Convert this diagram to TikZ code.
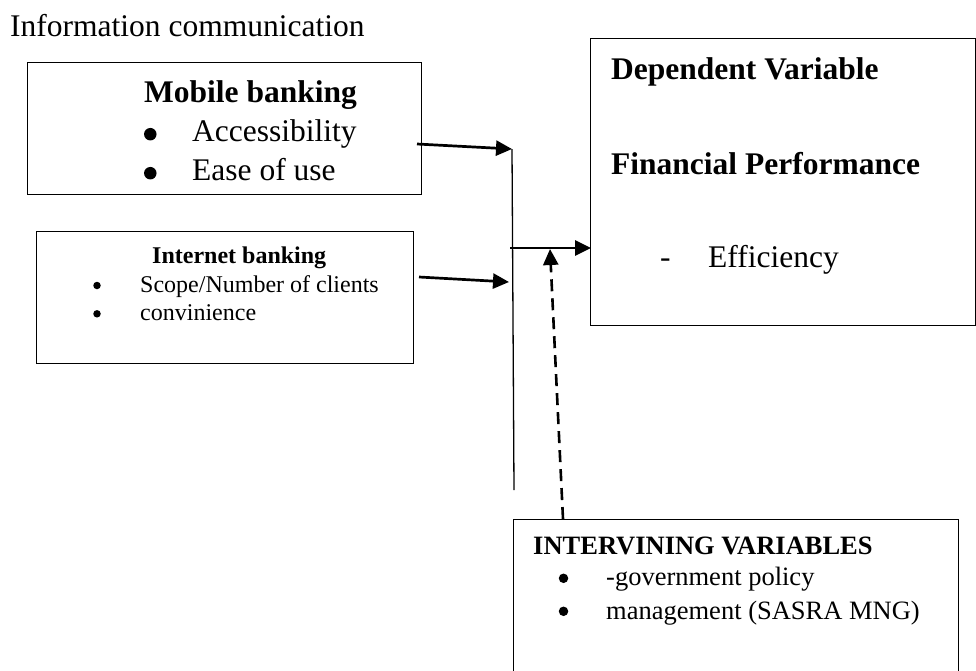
\documentclass[tikz,border=0pt]{standalone}
\usepackage{fontspec}
\setmainfont{Liberation Serif}
\usetikzlibrary{arrows.meta}
\begin{document}
\begin{tikzpicture}[x=1pt,y=-1pt,
  box/.style={draw, line width=1.3pt, inner sep=0pt, anchor=north west},
  txt/.style={anchor=base west, inner sep=0pt},
  big/.style={font=\fontsize{31.5}{36}\selectfont},
  mid/.style={font=\fontsize{26.5}{31}\selectfont},
  small/.style={font=\fontsize{24}{28}\selectfont},
  dot/.style={circle, fill, inner sep=0pt, minimum size=#1},
  link/.style={line width=2.7pt, -{Triangle[length=16pt,width=15pt]}},
  bus/.style={line width=1.3pt},
  dashlink/.style={line width=2.6pt, dash pattern=on 12pt off 7pt,
    -{Triangle[length=16pt,width=15pt]}}
]
\useasboundingbox (0,0) rectangle (976,670);
\clip (0,0) rectangle (976,670);

% heading
\node[txt, big] (title) at (10,36.5) {Information communication};

% independent variable: mobile banking
\node[box, minimum width=394pt, minimum height=132pt] (mob) at (27,62) {};
\node[txt, big] (mobh) at (144,102) {\textbf{Mobile banking}};
\node[dot=12.5pt] (mobb1) at (150.3,134.2) {};
\node[txt, big] (mob1) at (192,141) {Accessibility};
\node[dot=12.5pt] (mobb2) at (150.3,173.2) {};
\node[txt, big] (mob2) at (192,180) {Ease of use};

% independent variable: internet banking
\node[box, minimum width=377pt, minimum height=132pt] (inet) at (36,231) {};
\node[txt, small] (ineth) at (152,263) {\textbf{Internet banking}};
\node[dot=7.5pt] (inetb1) at (97,285.5) {};
\node[txt, small] (inet1) at (140,292) {Scope/Number of clients};
\node[dot=7.5pt] (inetb2) at (97,313.8) {};
\node[txt, small] (inet2) at (140,320.7) {convinience};

% dependent variable
\node[box, minimum width=385pt, minimum height=287pt] (dep) at (590,38) {};
\node[txt, big] (deph) at (611,79.5) {\textbf{Dependent Variable}};
\node[txt, big] (deps) at (611,174) {\textbf{Financial Performance}};
\node[txt, big] (depd) at (660,267.5) {-};
\node[txt, big] (dep1) at (708,267.5) {Efficiency};

% intervening variables
\node[box, minimum width=445pt, minimum height=170pt] (intv) at (513,519) {};
\node[txt, mid] (intvh) at (533,554) {\textbf{INTERVINING VARIABLES}};
\node[dot=9.5pt] (intvb1) at (563.5,578.3) {};
\node[txt, mid] (intv1) at (606,585) {-government policy};
\node[dot=9.5pt] (intvb2) at (563.5,611.3) {};
\node[txt, mid] (intv2) at (606,619) {management (SASRA MNG)};

% connector points
\coordinate (mobout) at (417,144);
\coordinate (inetout) at (419,277);
\coordinate (bustop) at (512,149);
\coordinate (busin) at (509,282);
\coordinate (busbot) at (514,490);
\coordinate (busj) at (510,248);
\coordinate (depin) at (591,248);
\coordinate (intvout) at (563,519);
\coordinate (busmod) at (550,249);

% connectors
\draw[bus] (bustop) -- (busbot);
\draw[link] (mobout) -- (bustop);
\draw[link] (inetout) -- (busin);
\draw[link] (busj) -- (depin);
\draw[dashlink] (intvout) -- (busmod);
\end{tikzpicture}
\end{document}
